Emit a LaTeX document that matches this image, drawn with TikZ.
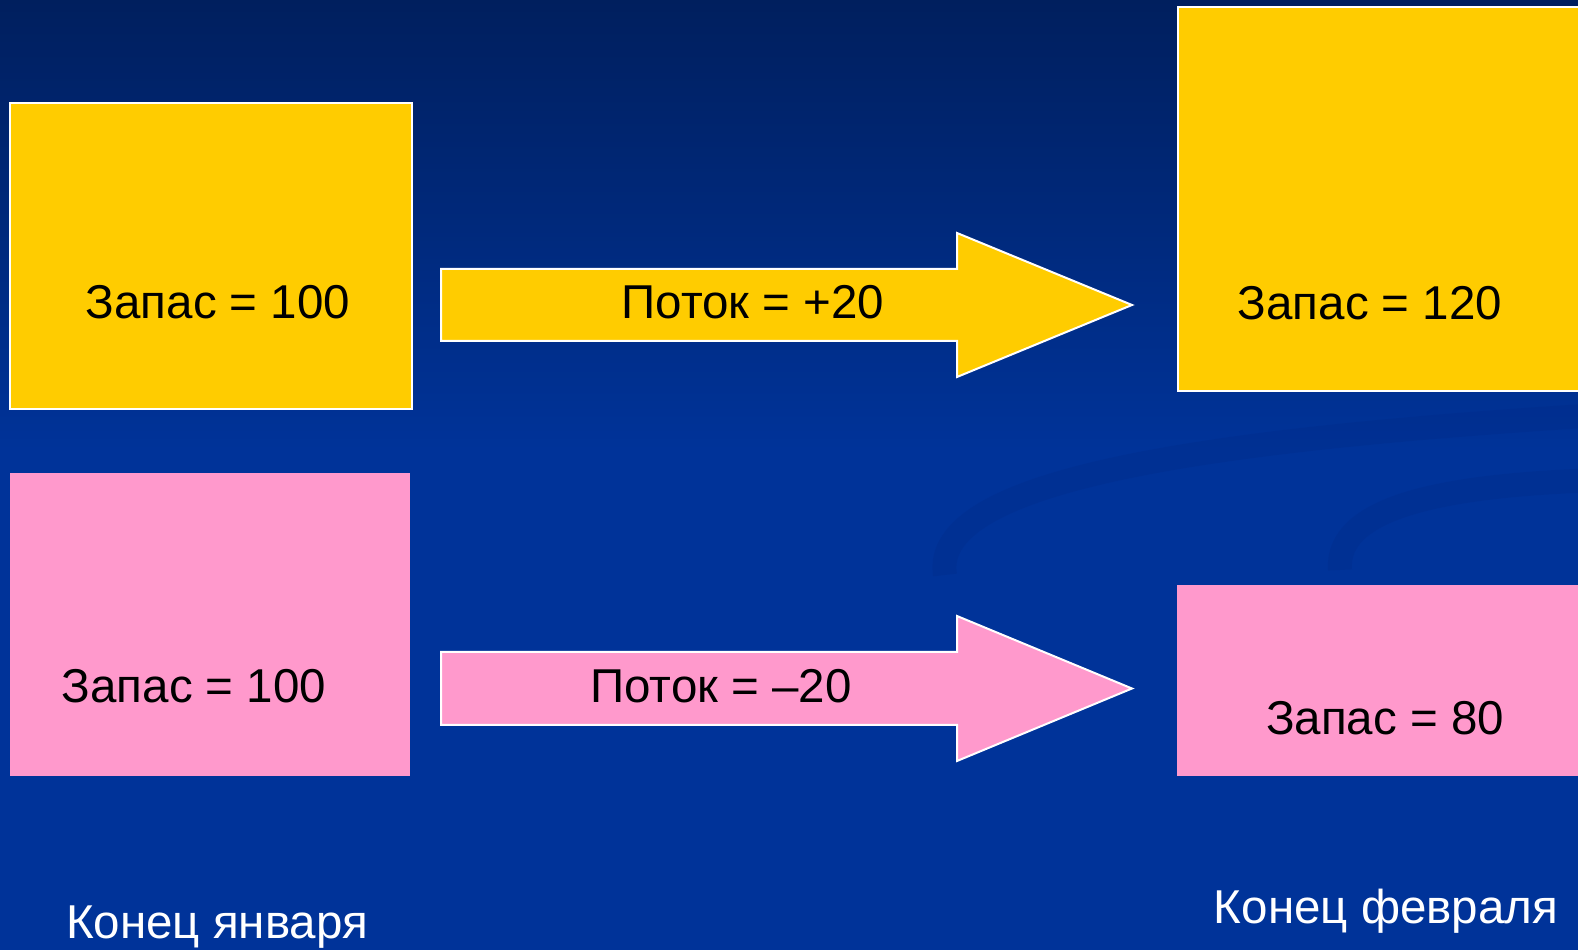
\documentclass[tikz,border=0pt]{standalone}
\usepackage{fontspec}
\setmainfont{Liberation Sans}
\usetikzlibrary{positioning}

\definecolor{slidetop}{RGB}{0,31,94}
\definecolor{slideblue}{RGB}{0,51,153}
\definecolor{swooshblue}{RGB}{0,42,135}
\definecolor{stockyellow}{RGB}{255,204,0}
\definecolor{stockpink}{RGB}{255,153,204}

\begin{document}
\begin{tikzpicture}[x=1pt,y=1pt,font=\fontsize{47.5}{57}\selectfont]
       \tikzstyle{stock}=[rectangle, anchor=south west, inner sep=0pt]
       \tikzstyle{rim}=[draw=white, line width=2pt]
       \tikzstyle{flow}=[draw=white, line width=2pt, line join=miter]
       \tikzstyle{amount}=[anchor=base, inner sep=0pt]
       \tikzstyle{month}=[anchor=base, inner sep=0pt, text=white]
       \tikzstyle{swoosh}=[draw=swooshblue, line width=24pt, opacity=0.3]

       % slide background
       \useasboundingbox (0,0) rectangle (1578,950);
       \fill[slideblue] (0,0) rectangle (1578,950);
       \shade[top color=slidetop, bottom color=slideblue] (0,950) rectangle (1578,500);
       \path[swoosh] (945,375) .. controls (930,470) and (1200,510) .. (1600,535);
       \path[swoosh] (1340,380) .. controls (1335,445) and (1450,465) .. (1600,470);

       % stocks
       \node[stock, rim, fill=stockyellow, minimum width=402, minimum height=306] (z_0) at (9,540) {};
       \node[stock, rim, fill=stockyellow, minimum width=405, minimum height=384] (z_1) at (1177,558) {};
       \node[stock, fill=stockpink, minimum width=400, minimum height=303] (z_2) at (10,174) {};
       \node[stock, fill=stockpink, minimum width=405, minimum height=191] (z_3) at (1177,174) {};

       % flows
       \path[flow, fill=stockyellow] (441,609) -- (957,609) -- (957,573) -- (1132,645)
             -- (957,717) -- (957,681) -- (441,681) -- cycle;
       \path[flow, fill=stockpink] (441,225) -- (957,225) -- (957,189) -- (1132,261.5)
             -- (957,334) -- (957,298) -- (441,298) -- cycle;

       \node[amount] (t_0) at (218,631) {Запас = 100};
       \node[amount] (f_0) at (753,631) {Поток = +20};
       \node[amount] (t_1) at (1370,630) {Запас = 120};
       \node[amount] (t_2) at (194,247) {Запас = 100};
       \node[amount] (f_1) at (721,247) {Поток = –20};
       \node[amount] (t_3) at (1385,215) {Запас = 80};

       \node[month] (m_0) at (217,12) {Конец января};
       \node[month] (m_1) at (1386,27) {Конец февраля};
     \end{tikzpicture}
\end{document}
